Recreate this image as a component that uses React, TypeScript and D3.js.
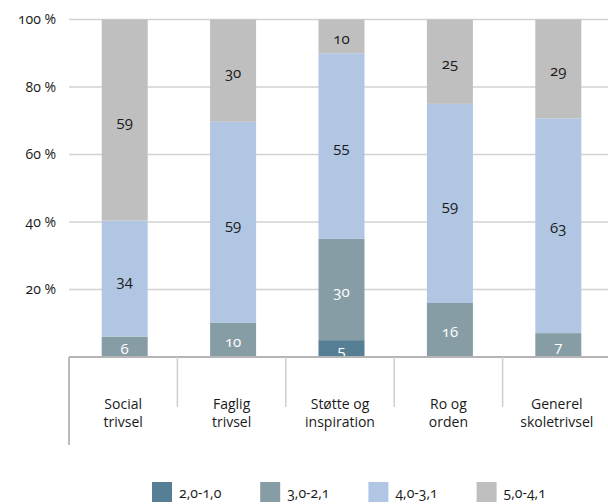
import React from 'react'
import * as d3 from 'd3'

const categories = [['Social', 'trivsel'], ['Faglig', 'trivsel'], ['Støtte og', 'inspiration'], ['Ro og', 'orden'], ['Generel', 'skoletrivsel']]
const seriesNames = ['2,0-1,0', '3,0-2,1', '4,0-3,1', '5,0-4,1']
const seriesColors = ['#567f96', '#879da5', '#b1c6e2', '#bfbfbf']
const labelColors = ['#ffffff', '#ffffff', '#1a1a1a', '#1a1a1a']
const s20 = [0, 0, 5, 0, 0]
const s30 = [6, 10, 30, 16, 7]
const s40 = [34, 59, 55, 59, 63]
const s50 = [59, 30, 10, 25, 29]
const yTicks = [20, 40, 60, 80, 100]

const font = '"Open Sans", "Noto Sans", sans-serif'

export default function App() {
  const width = 608
  const height = 504
  const left = 69
  const top = 19.5
  const bottom = 357

  const keys = categories.map(c => c.join(' '))
  const rows = keys.map((k, i) => ({ key: k, a: s20[i], b: s30[i], c: s40[i], d: s50[i] }))
  // bars are drawn as full 100 % columns (shares rounded in the source)
  const stack = d3.stack<any>().keys(['a', 'b', 'c', 'd']).offset(d3.stackOffsetExpand)(rows)

  const x = d3.scaleBand().domain(keys).range([left, left + 5 * 108.4]).padding(0)
  const y = d3.scaleLinear().domain([0, 1]).range([bottom, top])
  const yt = d3.scaleLinear().domain([0, 100]).range([bottom, top])
  const barW = 46

  return (
    <svg width={width} height={height} style={{ position: 'absolute', left: 0, top: 0, fontFamily: font }}>
      {yTicks.map(t => (
        <g key={t}>
          <line x1={left} x2={width} y1={yt(t)} y2={yt(t)} stroke="#d2d2d2" strokeWidth={1.5} />
          <text x={56} y={yt(t)} dy="0.35em" textAnchor="end" fontSize={14} fill="#1a1a1a"
            style={{ fontVariantNumeric: 'oldstyle-nums' }}>{t} %</text>
        </g>
      ))}
      {stack.map((layer, si) => (
        <g key={si}>
          {layer.map((d, i) => {
            const v = (rows[i] as any)[layer.key]
            if (v <= 0) return null
            const cx = x(keys[i])! + x.bandwidth() / 2 + 1.5
            const y0 = y(d[0])
            const y1 = y(d[1])
            return (
              <g key={i}>
                <rect x={cx - barW / 2} y={y1} width={barW} height={y0 - y1} fill={seriesColors[si]} />
                <text x={cx} y={(y0 + y1) / 2 + 2} dy="0.35em" textAnchor="middle" fontSize={15}
                  fill={labelColors[si]} style={{ fontVariantNumeric: 'oldstyle-nums' }}>{v}</text>
              </g>
            )
          })}
        </g>
      ))}
      <line x1={left} x2={width} y1={bottom} y2={bottom} stroke="#b4b4b4" strokeWidth={2} />
      <line x1={left} x2={left} y1={bottom} y2={445} stroke="#bcbcbc" strokeWidth={2} />
      {keys.slice(1).map(k => (
        <line key={k} x1={x(k)!} x2={x(k)!} y1={bottom} y2={407} stroke="#cfcfcf" strokeWidth={1.5} />
      ))}
      {categories.map((c, i) => (
        <g key={i}>
          <text x={x(keys[i])! + x.bandwidth() / 2} y={408.5} textAnchor="middle" fontSize={14} fill="#1a1a1a">{c[0]}</text>
          <text x={x(keys[i])! + x.bandwidth() / 2} y={426.5} textAnchor="middle" fontSize={14} fill="#1a1a1a">{c[1]}</text>
        </g>
      ))}
      {seriesNames.map((n, i) => (
        <g key={n} transform={`translate(${152 + i * 108.2},482)`}>
          <rect width={20} height={20} fill={seriesColors[i]} />
          <text x={27} y={16} fontSize={14} fill="#1a1a1a" style={{ fontVariantNumeric: 'oldstyle-nums' }}>{n}</text>
        </g>
      ))}
    </svg>
  )
}
